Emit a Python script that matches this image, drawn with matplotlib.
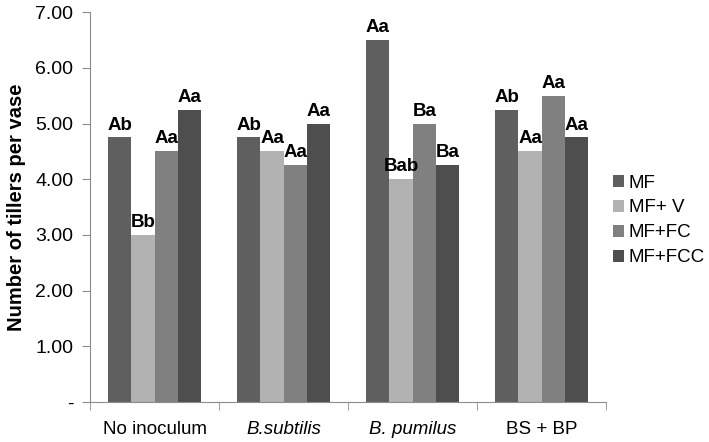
#! /usr/bin/env python3
import numpy as np
import matplotlib
matplotlib.use("Agg")
import matplotlib.pyplot as plt

plt.rcParams['font.family'] = ['Liberation Sans', 'DejaVu Sans']

#
# DATA
#
groups = ["No inoculum", "B.subtilis", "B. pumilus", "BS + BP"]
group_italic = [False, True, True, False]
series = ["MF", "MF+ V", "MF+FC", "MF+FCC"]
mf = [4.75, 4.75, 6.50, 5.25]
mf_v = [3.00, 4.50, 4.00, 4.50]
mf_fc = [4.50, 4.25, 5.00, 5.50]
mf_fcc = [5.25, 5.00, 4.25, 4.75]
lab_mf = ["Ab", "Ab", "Aa", "Ab"]
lab_mf_v = ["Bb", "Aa", "Bab", "Aa"]
lab_mf_fc = ["Aa", "Aa", "Ba", "Aa"]
lab_mf_fcc = ["Aa", "Aa", "Ba", "Aa"]
yticks = [0, 1, 2, 3, 4, 5, 6, 7]
ytick_labels = ["-", "1.00", "2.00", "3.00", "4.00", "5.00", "6.00", "7.00"]

colors = ["#5f5f5f", "#b2b2b2", "#808080", "#4e4e4e"]
grey = "#8c8c8c"
fs = 13.5

fig = plt.figure(figsize=(7.09, 4.42), dpi=100)
ax = fig.add_axes([0.127, 0.0905, 0.728, 0.882])

x = np.arange(len(groups))
width = 0.18
values = [mf, mf_v, mf_fc, mf_fcc]
labels = [lab_mf, lab_mf_v, lab_mf_fc, lab_mf_fcc]
for i, (vals, labs) in enumerate(zip(values, labels)):
    pos = x + (i - 1.5) * width
    ax.bar(pos, vals, width, color=colors[i], label=series[i])
    for p, v, t in zip(pos, vals, labs):
        ax.text(p, v + 0.07, t, ha='center', va='bottom',
                fontsize=fs, fontweight='bold')

ax.set_xlim(-0.5, len(groups) - 0.5)
ax.set_ylim(0, 7)
ax.set_yticks(yticks)
ax.set_yticklabels(ytick_labels, fontsize=14)
ax.set_xticks(x)
ax.set_xticklabels(groups, fontsize=fs)
for lbl, it in zip(ax.get_xticklabels(), group_italic):
    if it:
        lbl.set_style('italic')
ax.tick_params(axis='x', length=0, pad=14)
ax.set_xticks(np.arange(len(groups) + 1) - 0.5, minor=True)
ax.tick_params(axis='x', which='minor', length=6, color=grey)
ax.tick_params(axis='y', length=6, color=grey, pad=6)

for s in ['top', 'right']:
    ax.spines[s].set_visible(False)
for s in ['left', 'bottom']:
    ax.spines[s].set_color(grey)

ax.set_ylabel("Number of tillers per vase", fontsize=14.5, fontweight='bold',
              labelpad=7)

fig.legend(loc='upper left', bbox_to_anchor=(0.864, 0.605), frameon=False,
           fontsize=fs, handlelength=0.6, handleheight=0.6, handletextpad=0.25,
           labelspacing=0.42, borderpad=0, borderaxespad=0)

fig.savefig("out.png", dpi=100)
